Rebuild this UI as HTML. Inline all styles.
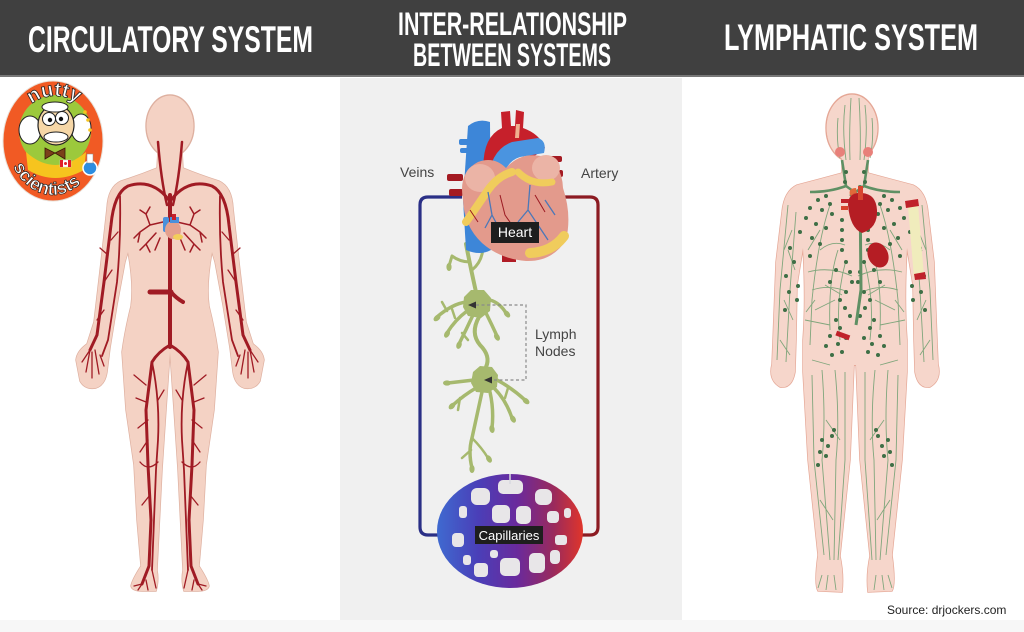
<!DOCTYPE html>
<html><head><meta charset="utf-8">
<style>
html,body{margin:0;padding:0;background:#fff;}
svg{display:block;}
</style></head><body>
<svg width="1024" height="632" viewBox="0 0 1024 632" xmlns="http://www.w3.org/2000/svg">
<defs>
<linearGradient id="cap" x1="437" y1="0" x2="583" y2="0" gradientUnits="userSpaceOnUse">
<stop offset="0" stop-color="#3f6ad0"/>
<stop offset="0.28" stop-color="#4a3fb8"/>
<stop offset="0.55" stop-color="#6a2a9c"/>
<stop offset="0.8" stop-color="#9a2a5c"/>
<stop offset="1" stop-color="#e0352a"/>
</linearGradient>
<path id="lbh" d="M158 150 L157 168 Q140 175 121 181 Q108 187 107 208 L101 262 L94 322 L87 344 Q77 351 76 360 L80 381 Q85 390 96 388 Q105 385 107 372 L110 348 L117 305 L125 262 L128 252 Q134 285 131 306 Q125 330 122 352 L126 410 L134 465 L137 520 L141 566 Q132 580 131 586 Q132 591 142 591 L156 591 Q159 581 157 570 L162 470 L166 410 L170 352 L170 150 Z"/>
<path id="rbh" d="M842 150 L842 173 Q820 179 797 185 Q784 191 782 212 L776 262 L773 340 L772 364 Q768 380 780 387 Q792 389 795 372 L796 340 L797 285 L803 248 Q806 300 803 340 L803 372 L808 460 L818 555 Q814 584 818 591 L842 592 Q844 575 840 556 L850 460 L854 365 L855 365 L855 150 Z"/>
<g id="lart" fill="none" stroke="#a01b24" stroke-linecap="round" stroke-linejoin="round">
<path stroke-width="2.5" d="M167 205 Q161 180 158 142"/>
<path stroke-width="3" d="M169 200 Q152 178 128 186 Q114 193 111 225 L104 282 L97 335 L90 350"/>
<path stroke-width="1.8" d="M120 196 Q121 240 117 282 L108 340 L102 356"/>
<path stroke-width="1.3" d="M90 350 L82 362 M90 350 L86 372 M92 352 L92 378 M95 350 L99 374 M100 355 L104 366 M104 282 L112 270 M97 320 L104 310 M111 240 L118 232 M108 255 L100 248"/>
<path stroke-width="1.5" d="M163 222 L150 225 L140 232 M150 225 L146 214 M146 214 L140 210 M146 214 L150 207 M140 232 L134 238 M140 232 L138 242 M156 233 L146 244 M146 244 L140 250 M146 244 L150 252 M160 238 L155 250"/>
<path stroke-width="3" d="M170 345 Q158 352 152 362 L146 410 L148 465 L151 520 L149 566 L142 584"/>
<path stroke-width="1.8" d="M152 362 Q160 400 158 440 L156 470 L154 520 L152 570"/>
<path stroke-width="1.3" d="M146 385 L134 375 M146 402 L136 398 M148 420 L138 428 M148 440 L140 452 M140 462 Q148 472 158 462 M150 495 L142 505 M142 584 L134 586 M142 584 L138 590 M146 580 L148 590 M152 570 L156 588 M158 400 L164 390"/>
</g>
<g id="llym">
<g fill="none" stroke="#80a67c" stroke-width="0.9">
<path d="M845 105 Q842 130 846 160 M838 118 Q836 140 840 158 M851 98 Q849 130 850 160"/>
<path d="M788 205 L780 290 L777 360 M796 212 L790 290 L786 362 M788 250 L795 270 M784 300 L793 320 M780 340 L790 355 M792 230 L784 250"/>
<path d="M830 205 Q818 240 812 300 L810 345 M838 250 Q828 280 830 330 M846 260 Q835 300 840 340 M820 230 L808 250 M835 300 L815 310 M842 295 L825 285 M805 320 L830 325"/>
<path d="M808 272 Q830 266 852 276 M812 290 Q830 284 848 292 M815 300 L806 312 M820 250 Q832 240 845 245"/>
<path d="M812 375 L814 460 L824 555 M822 370 Q826 420 822 460 L830 560 M835 370 Q840 420 836 460 L834 560 M845 372 L845 460 L838 560 M820 500 L833 520 M826 420 L840 440 M812 360 L830 365"/>
<path d="M822 575 L818 588 M828 575 L826 590 M834 575 L836 590"/>
</g>
<path d="M842 160 L846 186 Q830 192 810 192 M846 186 L860 196" fill="none" stroke="#5f9064" stroke-width="2.6"/>
<g fill="#3e6f46">
<circle cx="846" cy="172" r="2"/><circle cx="845" cy="182" r="2"/><circle cx="826" cy="196" r="2"/><circle cx="818" cy="200" r="2"/><circle cx="830" cy="204" r="2"/><circle cx="810" cy="208" r="2"/><circle cx="822" cy="210" r="2"/><circle cx="832" cy="214" r="2"/><circle cx="806" cy="218" r="2"/><circle cx="816" cy="224" r="2"/><circle cx="800" cy="232" r="2"/><circle cx="826" cy="228" r="2"/><circle cx="842" cy="220" r="2"/><circle cx="842" cy="230" r="2"/><circle cx="842" cy="240" r="2"/><circle cx="842" cy="250" r="2"/><circle cx="790" cy="248" r="2"/><circle cx="794" cy="262" r="2"/><circle cx="786" cy="276" r="2"/><circle cx="789" cy="292" r="2"/><circle cx="785" cy="310" r="2"/><circle cx="846" cy="262" r="2"/><circle cx="850" cy="272" r="2"/><circle cx="852" cy="282" r="2"/><circle cx="846" cy="292" r="2"/><circle cx="840" cy="300" r="2"/><circle cx="845" cy="308" r="2"/><circle cx="850" cy="316" r="2"/><circle cx="836" cy="320" r="2"/><circle cx="840" cy="328" r="2"/><circle cx="830" cy="336" r="2"/><circle cx="838" cy="344" r="2"/><circle cx="846" cy="338" r="2"/><circle cx="826" cy="346" r="2"/><circle cx="832" cy="355" r="2"/><circle cx="842" cy="352" r="2"/><circle cx="822" cy="440" r="2"/><circle cx="828" cy="446" r="2"/><circle cx="832" cy="436" r="2"/><circle cx="820" cy="452" r="2"/><circle cx="826" cy="456" r="2"/><circle cx="834" cy="430" r="2"/><circle cx="818" cy="465" r="2"/>
<circle cx="812" cy="238" r="2"/><circle cx="820" cy="244" r="2"/><circle cx="810" cy="256" r="2"/><circle cx="798" cy="286" r="2"/><circle cx="797" cy="300" r="2"/><circle cx="836" cy="270" r="2"/><circle cx="830" cy="282" r="2"/>
</g>
</g>
</defs>

<rect width="1024" height="632" fill="#fff"/>
<rect width="1024" height="75" fill="#404040"/>
<rect y="75" width="1024" height="2" fill="#777"/>
<rect x="340" y="78" width="342" height="542" fill="#f0f0f0"/>
<rect y="620" width="1024" height="12" fill="#f7f7f7"/>

<g font-family="'Liberation Sans', Arial, sans-serif" font-weight="bold" fill="#fff">
<text x="28" y="52" font-size="37" textLength="285" lengthAdjust="spacingAndGlyphs">CIRCULATORY SYSTEM</text>
<text x="398" y="35" font-size="32" textLength="229" lengthAdjust="spacingAndGlyphs">INTER-RELATIONSHIP</text>
<text x="413" y="66" font-size="32" textLength="198" lengthAdjust="spacingAndGlyphs">BETWEEN SYSTEMS</text>
<text x="724" y="50" font-size="37" textLength="254" lengthAdjust="spacingAndGlyphs">LYMPHATIC SYSTEM</text>
</g>

<!-- LEFT BODY -->
<g fill="#f4d2c4" stroke="#deb0a0" stroke-width="1.4">
<use href="#lbh"/>
<use href="#lbh" transform="translate(340 0) scale(-1 1)"/>
<ellipse cx="170" cy="126" rx="24" ry="31"/>
</g>
<g fill="#f4d2c4">
<use href="#lbh"/>
<use href="#lbh" transform="translate(340 0) scale(-1 1)"/>
<ellipse cx="170" cy="126" rx="23.3" ry="30.3"/>
</g>
<use href="#lart"/>
<use href="#lart" transform="translate(340 0) scale(-1 1)"/>
<g fill="none" stroke="#a01b24" stroke-linecap="round">
<path d="M170 195 V347" stroke-width="4"/>
<path d="M150 292 H171" stroke-width="5"/>
<path d="M171 292 Q176 298 183 302" stroke-width="4"/>
</g>
<g>
<rect x="163" y="217" width="6" height="15" rx="2" fill="#4a90dc"/>
<ellipse cx="173" cy="230" rx="8" ry="9" fill="#e4a08e"/>
<path d="M170 217 h9 v6 h-9z" fill="#4a90dc"/>
<path d="M172 214 h4 v6 h-4z" fill="#c6202b"/>
<ellipse cx="178" cy="237" rx="5" ry="3" fill="#f2cf5a"/>
</g>

<!-- LOGO -->
<g>
<ellipse cx="53" cy="141" rx="50" ry="60" fill="#f15a24" stroke="#e8e0d8" stroke-width="1"/>
<circle cx="55" cy="131" r="36" fill="#9cc93c"/>
<path d="M26 152 Q55 178 86 152 L84 170 Q55 186 28 170 Z" fill="#f6c41e"/>
<ellipse cx="30" cy="130" rx="11" ry="14" fill="#fff" stroke="#222" stroke-width="1"/>
<ellipse cx="81" cy="128" rx="10" ry="14" fill="#fff" stroke="#222" stroke-width="1"/>
<ellipse cx="56" cy="125" rx="18" ry="20" fill="#f6d7a7" stroke="#222" stroke-width="1.2"/>
<ellipse cx="55" cy="107" rx="13" ry="5" fill="#fff" stroke="#222" stroke-width="1"/>
<circle cx="49" cy="119" r="6.5" fill="#fff" stroke="#222" stroke-width="1"/>
<circle cx="62" cy="118" r="6.5" fill="#fff" stroke="#222" stroke-width="1"/>
<circle cx="50" cy="120" r="2.2" fill="#111"/><circle cx="61" cy="119" r="2.2" fill="#111"/>
<ellipse cx="56" cy="137" rx="12" ry="5" fill="#fff" stroke="#222" stroke-width="1"/>
<path d="M45 148 L55 153 L45 159 Z M65 148 L55 153 L65 159 Z" fill="#7a3f1a" stroke="#3a1a08" stroke-width="0.8"/>
<rect x="60" y="160" width="11" height="7" fill="#fff" stroke="#ccc" stroke-width="0.5"/>
<rect x="60" y="160" width="3" height="7" fill="#e0202a"/><rect x="68" y="160" width="3" height="7" fill="#e0202a"/><circle cx="65.5" cy="163.5" r="1.5" fill="#e0202a"/>
<circle cx="90" cy="168" r="7" fill="#2d8de0" stroke="#fff" stroke-width="1.5"/>
<rect x="87" y="154" width="6" height="9" fill="#fff" stroke="#888" stroke-width="0.5"/>
<circle cx="85" cy="112" r="1.8" fill="#f6c41e"/><circle cx="88" cy="120" r="1.8" fill="#f6c41e"/><circle cx="90" cy="130" r="1.8" fill="#f6c41e"/>
<path id="ltop" d="M18 132 A37 36 0 0 1 92 132" fill="none"/>
<path id="lbot" d="M8 141 A45 54 0 0 0 98 141" fill="none"/>
<text font-family="'Liberation Sans', Arial, sans-serif" font-weight="bold" font-size="20" fill="#fff" stroke="#222" stroke-width="0.8"><textPath href="#ltop" startOffset="32">nutty</textPath></text>
<text font-family="'Liberation Sans', Arial, sans-serif" font-weight="bold" font-size="18" fill="#fff" stroke="#222" stroke-width="0.7"><textPath href="#lbot" startOffset="26">scientists</textPath></text>
</g>

<!-- CENTER PANEL -->
<g fill="none" stroke-width="3.2">
<path d="M462 197 H428 Q420 197 420 205 V527 Q420 535 428 535 H442" stroke="#2a2f86"/>
<path d="M558 197 H590 Q598 197 598 205 V527 Q598 535 590 535 H580" stroke="#8c1b22"/>
</g>
<g font-family="'Liberation Sans', Arial, sans-serif" font-size="14" fill="#444">
<text x="400" y="177">Veins</text>
<text x="581" y="178">Artery</text>
<text x="535" y="339">Lymph</text>
<text x="535" y="356">Nodes</text>
</g>

<!-- lymph -->
<g fill="none" stroke="#a6b96e" stroke-linecap="round" stroke-linejoin="round">
<path stroke-width="4" d="M466 244 Q470 265 476 292"/>
<path stroke-width="3" d="M470 262 Q460 262 452 256 L449 266 M472 270 Q482 262 483 248 L489 242"/>
<path stroke-width="3.5" d="M466 302 Q452 304 437 317 M467 311 Q455 320 447 333 M473 315 Q466 330 459 344 M486 313 Q492 325 497 336 M490 300 Q500 303 506 313"/>
<path stroke-width="2.5" d="M447 311 L442 302 M455 318 L452 309 M462 333 L468 340"/>
<path stroke-width="4" d="M479 317 Q470 333 480 345 Q491 356 486 367"/>
<path stroke-width="3.5" d="M474 380 L448 383 M476 388 Q464 395 453 405 M482 392 Q478 410 472 438 Q468 452 472 468 M490 392 Q494 410 492 428 M494 388 Q506 400 512 418 M497 380 Q512 388 525 400"/>
<path stroke-width="2.5" d="M472 438 Q482 448 488 458 M471 450 L462 458 M460 398 L458 410 M505 398 L508 388"/>
</g>
<g fill="#a6b96e">
<path d="M464 297 L471 290 L484 290 L491 298 L490 311 L481 318 L468 316 L463 307 Z"/>
<path d="M473 372 L480 366 L492 367 L498 375 L497 387 L488 393 L476 392 L471 383 Z"/>
<ellipse cx="437" cy="318" rx="4" ry="2.6" transform="rotate(-40 437 318)"/>
<ellipse cx="447" cy="334" rx="4" ry="2.6" transform="rotate(-60 447 334)"/>
<ellipse cx="459" cy="345" rx="4" ry="2.6" transform="rotate(-70 459 345)"/>
<ellipse cx="497" cy="337" rx="4" ry="2.6" transform="rotate(60 497 337)"/>
<ellipse cx="507" cy="314" rx="4" ry="2.6" transform="rotate(50 507 314)"/>
<ellipse cx="447" cy="383" rx="4" ry="2.6"/>
<ellipse cx="452" cy="406" rx="4" ry="2.6" transform="rotate(-45 452 406)"/>
<ellipse cx="492" cy="429" rx="4" ry="2.6" transform="rotate(80 492 429)"/>
<ellipse cx="513" cy="419" rx="4" ry="2.6" transform="rotate(60 513 419)"/>
<ellipse cx="526" cy="401" rx="4" ry="2.6" transform="rotate(40 526 401)"/>
<ellipse cx="472" cy="469" rx="2.6" ry="4"/>
<ellipse cx="489" cy="459" rx="2.6" ry="4" transform="rotate(-30 489 459)"/>
<ellipse cx="449" cy="267" rx="2.6" ry="4"/>
<ellipse cx="490" cy="241" rx="2.6" ry="4" transform="rotate(40 490 241)"/>
</g>
<path d="M476 305 H526 V380 H491" fill="none" stroke="#8a8a8a" stroke-width="1.2" stroke-dasharray="3 2.5"/>
<path d="M468 305 L476 301.5 L476 308.5 Z" fill="#333"/>
<path d="M484 380 L492 376.5 L492 383.5 Z" fill="#333"/>

<!-- heart -->
<g>
<path d="M468 126 Q478 118 490 122 L491 250 Q480 256 466 250 L463 200 Z" fill="#3d86d8"/>
<rect x="459" y="139" width="11" height="6" rx="2" fill="#3d86d8"/>
<rect x="460" y="148" width="10" height="5" rx="2" fill="#3d86d8"/>
<path d="M502 250 h14 v12 h-14z" fill="#b01c25"/>
<path d="M484 178 Q480 138 502 128 L501 112 L510 111 L511 126 L515 126 L516 110 L524 112 L523 128 Q540 134 545 148 L532 158 Q515 146 500 178 Z" fill="#c6202b"/>
<path d="M516 124 L520 124 L519 138 L515 138 Z" fill="#f0b090"/>
<path d="M488 182 Q490 150 512 142 L538 138 Q547 141 544 153 L520 157 Q504 162 502 185 Z" fill="#4a94e0"/>
<g fill="#a41a22">
<rect x="447" y="174" width="16" height="7" rx="2"/>
<rect x="449" y="189" width="14" height="7" rx="2"/>
<rect x="544" y="156" width="18" height="6" rx="2"/>
<rect x="546" y="170" width="17" height="7" rx="2"/>
</g>
<path d="M463 200 Q458 172 478 162 Q494 156 506 168 Q520 152 541 156 Q562 162 563 188 Q572 215 566 240 Q552 262 526 261 Q500 259 482 243 Q464 226 463 200 Z" fill="#e39a8c"/>
<ellipse cx="480" cy="178" rx="15" ry="14" fill="#ebb4a6"/>
<ellipse cx="546" cy="168" rx="14" ry="13" fill="#ebb4a6"/>
<g fill="none" stroke="#f0cc5c" stroke-linecap="round">
<path stroke-width="8" d="M466 222 Q478 205 488 190 Q498 176 512 172"/>
<path stroke-width="7" d="M518 172 Q532 186 552 182"/>
<path stroke-width="10" d="M530 253 Q552 252 564 236"/>
</g>
<g fill="none" stroke="#4b78b8" stroke-width="1.3">
<path d="M488 192 L492 215 L500 230 M492 215 L485 228 M530 185 L528 210 L540 228 M528 210 L518 222 M545 200 L555 215 M540 228 L548 240"/>
</g>
<g fill="none" stroke="#9b1a22" stroke-width="1">
<path d="M500 195 L505 215 L512 225 M535 195 L545 212 M470 210 L478 222"/>
</g>
<rect x="491" y="222" width="48" height="21" fill="#1e1e1e"/>
<text x="515" y="237" font-family="'Liberation Sans', Arial, sans-serif" font-size="14" fill="#fff" text-anchor="middle">Heart</text>
</g>

<!-- capillaries -->
<g>
<ellipse cx="510" cy="531" rx="73" ry="57" fill="url(#cap)"/>
<g fill="#e8e6e8">
<rect x="471" y="488" width="19" height="17" rx="6"/>
<rect x="498" y="480" width="25" height="14" rx="5"/>
<rect x="535" y="489" width="17" height="16" rx="6"/>
<rect x="459" y="506" width="8" height="12" rx="3"/>
<rect x="492" y="505" width="18" height="18" rx="5"/>
<rect x="516" y="506" width="15" height="18" rx="5"/>
<rect x="547" y="511" width="12" height="12" rx="4"/>
<rect x="564" y="508" width="7" height="10" rx="3"/>
<rect x="452" y="533" width="12" height="14" rx="4"/>
<rect x="555" y="535" width="12" height="10" rx="3"/>
<rect x="463" y="555" width="8" height="10" rx="3"/>
<rect x="474" y="563" width="14" height="14" rx="4"/>
<rect x="500" y="558" width="20" height="18" rx="5"/>
<rect x="529" y="553" width="16" height="20" rx="5"/>
<rect x="550" y="550" width="10" height="14" rx="4"/>
<rect x="490" y="550" width="8" height="8" rx="3"/>
</g>
<path d="M510 474 L510 484" stroke="#d8d8e0" stroke-width="1.5"/>
<rect x="475" y="526" width="68" height="18" fill="#1e1e1e"/>
<text x="509" y="540" font-family="'Liberation Sans', Arial, sans-serif" font-size="13" fill="#fff" text-anchor="middle">Capillaries</text>
</g>

<!-- RIGHT BODY -->
<g fill="#f6d6cb" stroke="#e5a796" stroke-width="1.4">
<use href="#rbh"/>
<use href="#rbh" transform="translate(1710 0) scale(-1 1)"/>
<ellipse cx="852" cy="128" rx="26" ry="34"/>
</g>
<g fill="#f6d6cb">
<use href="#rbh"/>
<use href="#rbh" transform="translate(1710 0) scale(-1 1)"/>
<ellipse cx="852" cy="128" rx="25.3" ry="33.3"/>
</g>
<use href="#llym"/>
<use href="#llym" transform="translate(1710 0) scale(-1 1)"/>
<path d="M860 185 L861 290 L856 325" fill="none" stroke="#5f9064" stroke-width="3"/>
<g>
<circle cx="840" cy="152" r="5" fill="#e8807a"/>
<circle cx="868" cy="152" r="5" fill="#e8807a"/>
<path d="M850 195 Q848 188 856 188 L858 200 Z" fill="#e06a3a"/>
<path d="M848 205 Q848 192 862 193 Q876 194 877 210 Q878 228 862 233 Q850 228 848 205 Z" fill="#b51d24"/>
<rect x="858" y="186" width="5" height="14" fill="#d8442e"/>
<rect x="841" y="199" width="8" height="4" fill="#c0222a"/>
<rect x="841" y="206" width="7" height="4" fill="#d8442e"/>
<ellipse cx="878" cy="255" rx="10" ry="13" transform="rotate(-25 878 255)" fill="#b51d24"/>
<path d="M908 206 L918 204 L924 276 L914 278 Z" fill="#f0ecbc"/>
<path d="M905 201 L918 199 L919 206 L906 208 Z" fill="#c0222a"/>
<path d="M914 274 L925 272 L926 279 L915 280 Z" fill="#c0222a"/>
<rect x="836" y="333" width="14" height="5" transform="rotate(20 843 335)" fill="#c0222a"/>
</g>

<text x="887" y="614" font-family="'Liberation Sans', Arial, sans-serif" font-size="12" fill="#222">Source: drjockers.com</text>
</svg>
</body></html>
